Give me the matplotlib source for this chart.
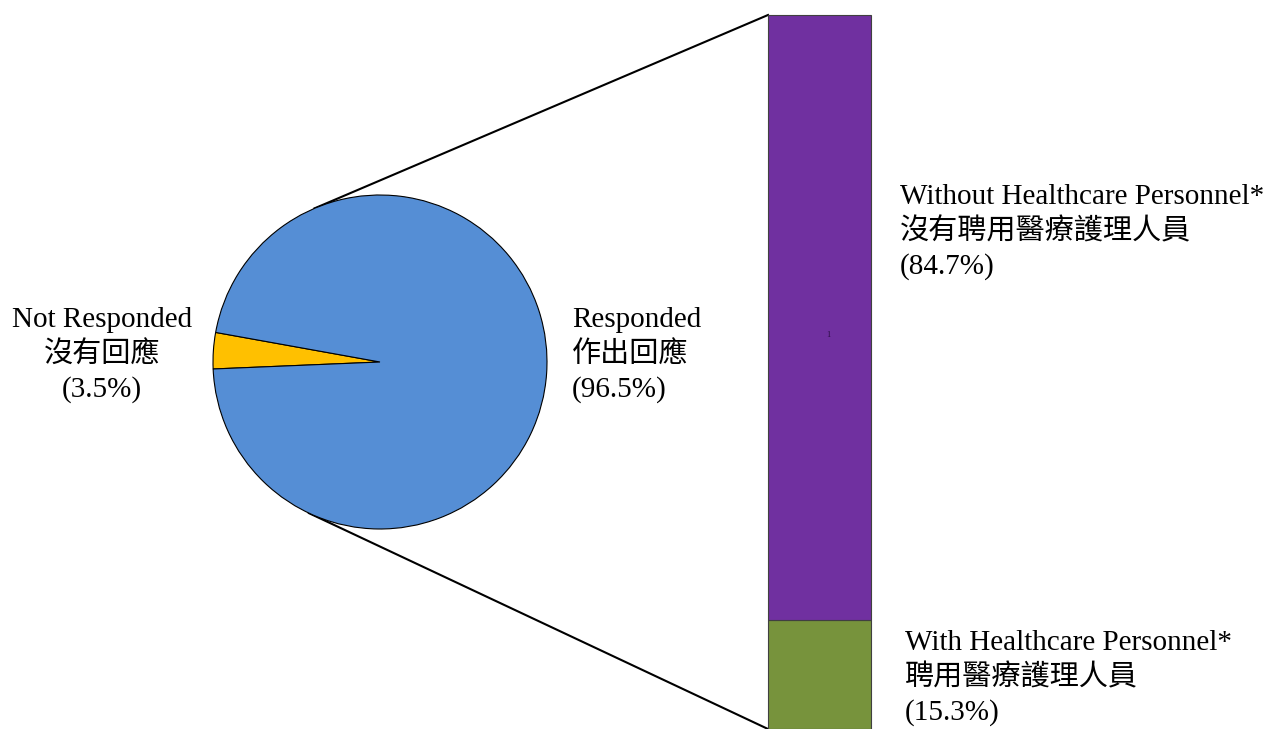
import numpy as np
import matplotlib
matplotlib.use("Agg")
import matplotlib.pyplot as plt

# data
pie_labels_en = ["Not Responded", "Responded"]
pie_labels_zh = ["沒有回應", "作出回應"]
pie_values = [3.5, 96.5]
pie_colors = ["#FFC000", "#558ED5"]

bar_labels_en = ["With Healthcare Personnel*", "Without Healthcare Personnel*"]
bar_labels_zh = ["聘用醫療護理人員", "沒有聘用醫療護理人員"]
bar_values = [15.3, 84.7]
bar_colors = ["#77933C", "#7030A0"]

FONT = ["Liberation Serif", "Noto Sans CJK TC", "DejaVu Sans"]
plt.rcParams["font.family"] = FONT

W, H = 1267, 729
fig = plt.figure(figsize=(W / 100, H / 100), dpi=100)
ax = fig.add_axes([0, 0, 1, 1])

# pie (pixel coordinates, y up)
cx, cy, r = 380, 367, 167
ax.pie(pie_values, colors=pie_colors, startangle=169.8, counterclock=True,
       center=(cx, cy), radius=r, frame=True,
       wedgeprops=dict(edgecolor="black", linewidth=0.8))
ax.set_xlim(0, W)
ax.set_ylim(0, H)
ax.set_aspect("equal")
ax.axis("off")

# stacked bar
bar_x, bar_w = 819.5, 103
bar_top = 714
scale = bar_top / sum(bar_values)
bottom = 0
for v, c in zip(bar_values, bar_colors):
    ax.bar(bar_x, v * scale, bottom=bottom, width=bar_w, color=c,
           edgecolor="#404040", linewidth=0.8)
    bottom += v * scale

ax.text(828, 394, "1", fontsize=6, color="#2a0f45", ha="center", va="center")

# connecting lines, tangent to pie
def tangent(px, py, sign):
    dx, dy = px - cx, py - cy
    d = np.hypot(dx, dy)
    a = np.arctan2(dy, dx) + sign * np.arccos(r / d)
    return cx + r * np.cos(a), cy + r * np.sin(a)

left = bar_x - bar_w / 2
for py, s in [(bar_top, 1), (0, -1)]:
    tx, ty = tangent(left, py, s)
    ax.plot([tx, left], [ty, py], color="black", linewidth=1.5, zorder=0)

fs = 21
lh = 35

def block(x, y_top, lines, ha):
    for i, t in enumerate(lines):
        ax.text(x, H - (y_top + i * lh), t, fontsize=fs, ha=ha, va="center",
                family=FONT, fontweight="light")

block(102, 320, [pie_labels_en[0], pie_labels_zh[0], f"({pie_values[0]}%)"], "center")
block(572, 320, [pie_labels_en[1], pie_labels_zh[1], f"({pie_values[1]}%)"], "left")
block(900, 197, [bar_labels_en[1], bar_labels_zh[1], f"({bar_values[1]}%)"], "left")
block(905, 643, [bar_labels_en[0], bar_labels_zh[0], f"({bar_values[0]}%)"], "left")

fig.savefig("out.png", dpi=100)
